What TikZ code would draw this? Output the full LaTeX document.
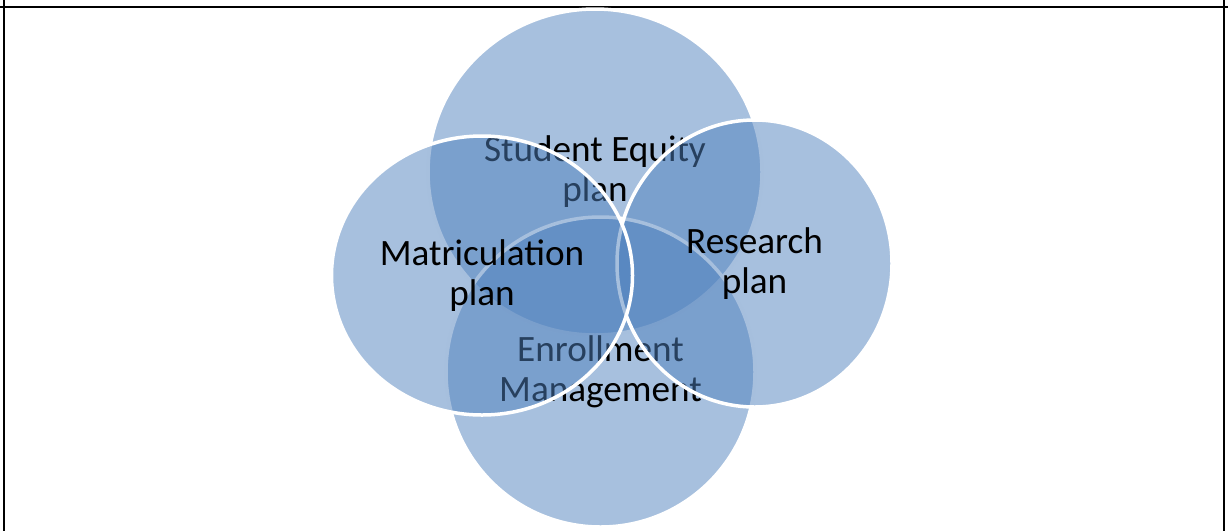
\documentclass[tikz,border=0pt]{standalone}
\usepackage{fontspec}
\setmainfont{Carlito}
\usetikzlibrary{shapes.geometric}
\definecolor{vennblue}{HTML}{4F81BD}

\begin{document}
\begin{tikzpicture}[x=1pt, y=-1pt,
    venn/.style={ellipse, fill=vennblue, fill opacity=0.5, text opacity=1,
      draw=white, line width=3.5pt, inner sep=0pt, align=center,
      font=\fontsize{37.2}{40}\selectfont},
  ]
  \useasboundingbox (0,0) rectangle (1228,531);
  \draw[line width=2.5pt] (0,7) -- (1228,7);
  \draw[line width=1.2pt] (4,0) -- (4,531);
  \draw[line width=1.2pt] (1224,0) -- (1224,531);
  \node[venn, minimum width=334pt, minimum height=326pt] (equity) at (595,172) {Student Equity\\plan};
  \node[venn, minimum width=309pt, minimum height=310pt] (enroll) at (600.5,372) {Enrollment\\Management};
  \node[venn, minimum width=275pt, minimum height=287pt] (research) at (754.5,263.5) {Research\\plan};
  \node[venn, minimum width=301pt, minimum height=279pt] (matric) at (482,275.5) {Matriculation\\plan};
\end{tikzpicture}
\end{document}
